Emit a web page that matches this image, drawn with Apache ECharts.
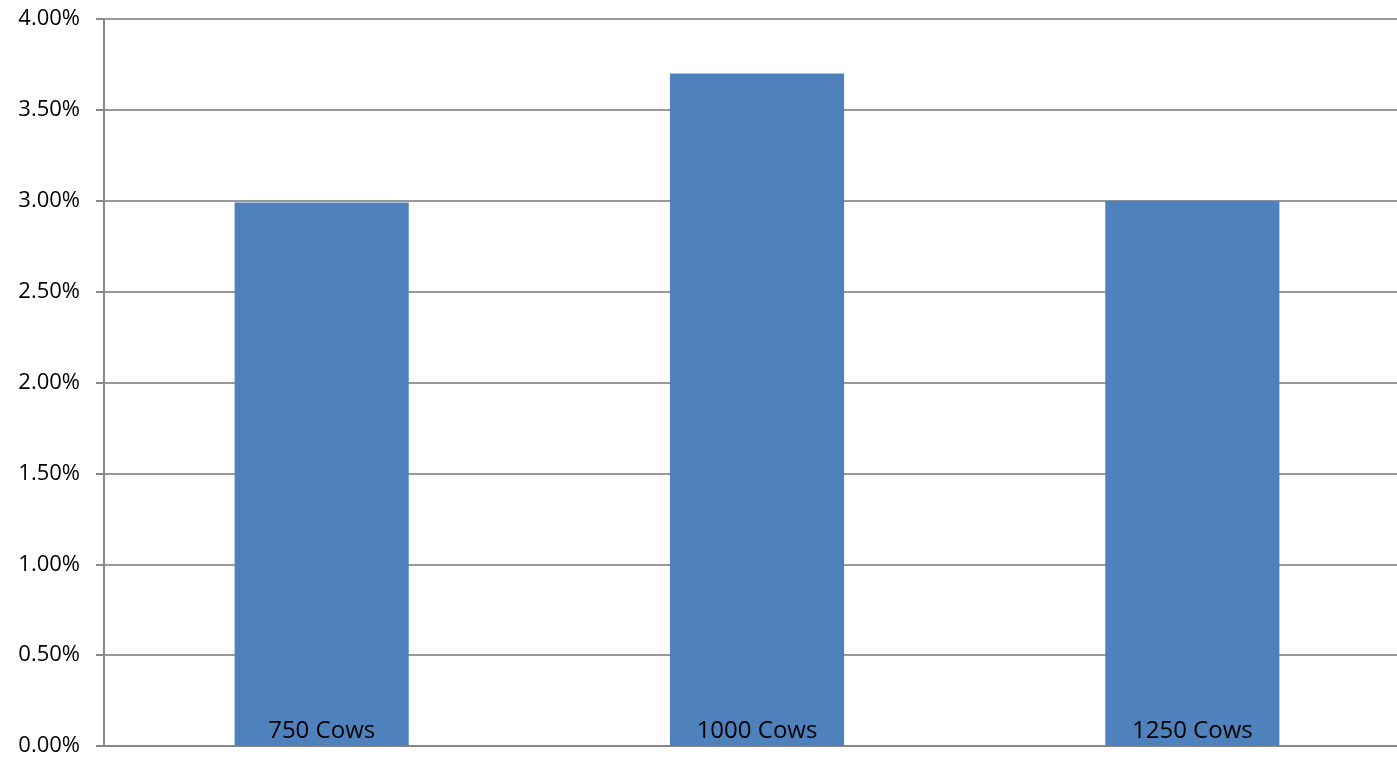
<!DOCTYPE html>
<html>
<head>
<meta charset="utf-8">
<style>
  html, body { margin: 0; padding: 0; background: #fff; }
  #main { width: 1397px; height: 758px; }
</style>
<script src="https://cdn.jsdelivr.net/npm/echarts@6/dist/echarts.min.js"></script>
</head>
<body>
<div id="main"></div>
<script>
// values (percent)
let categories = ["750 Cows", "1000 Cows", "1250 Cows"];
let rateValues = [2.99, 3.70, 3.00];

let chart = echarts.init(document.getElementById("main"));
let option = {
  animation: false,
  grid: {
    left: 104,
    width: 1306,
    top: 19,
    bottom: 12,
    outerBoundsMode: "none",
  },
  xAxis: {
    type: "category",
    data: categories,
    axisLine: { show: true, lineStyle: { color: "#888888", width: 2 } },
    axisTick: { show: false },
    axisLabel: { show: false },
  },
  yAxis: {
    type: "value",
    min: 0,
    max: 4,
    interval: 0.5,
    axisLine: { show: true, lineStyle: { color: "#888888", width: 2 } },
    axisTick: { show: true, length: 8, lineStyle: { color: "#888888", width: 2 } },
    splitLine: { show: true, lineStyle: { color: "#999999", width: 2 } },
    axisLabel: {
      color: "#000",
      fontSize: 22,
      fontFamily: "Open Sans",
      margin: 24,
      formatter: function (v) {
        return v.toFixed(2) + "%";
      },
    },
  },
  series: [
    {
      type: "bar",
      data: rateValues,
      barWidth: "40%",
      itemStyle: { color: "#4F81BD" },
      label: {
        show: true,
        position: "insideBottom",
        distance: 3,
        color: "#000",
        fontSize: 24,
        fontFamily: "Open Sans",
        formatter: function (p) {
          return p.name;
        },
      },
    },
  ],
};
chart.setOption(option);
</script>
</body>
</html>
